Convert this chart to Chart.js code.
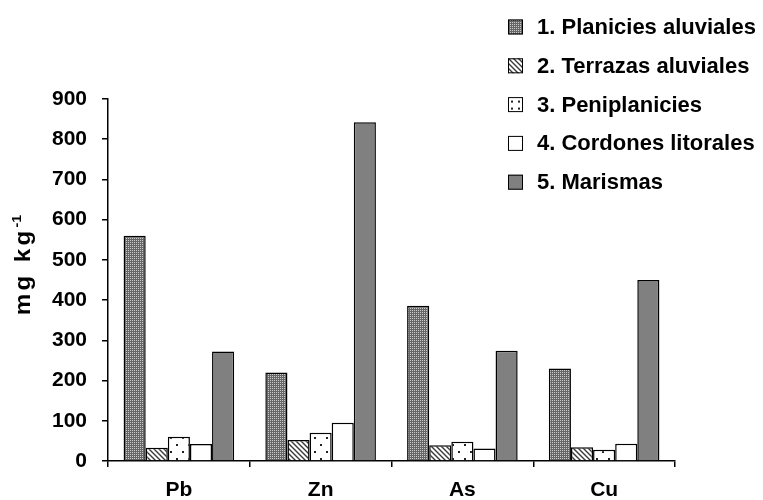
<!DOCTYPE html>
<html lang="es">
<head>
    <meta charset="UTF-8">
    <title>Metales por unidad geomorfológica</title>
    <script src="https://cdn.jsdelivr.net/npm/chart.js"></script>
    <style>
        body {
            margin: 0;
            padding: 0;
            background-color: #ffffff;
            font-family: "Liberation Sans", Arial, sans-serif;
        }
    </style>
</head>
<body>
    <canvas id="metalChart" width="763" height="500"></canvas>

    <script>
// categories + series (mg kg-1)
const metals = ["Pb", "Zn", "As", "Cu"];
const seriesNames = ["1. Planicies aluviales", "2. Terrazas aluviales", "3. Peniplanicies", "4. Cordones litorales", "5. Marismas"];
const planicies = [560, 220, 386, 230];
const terrazas = [33, 52, 39, 34];
const peniplanicies = [60, 70, 48, 28];
const cordones = [42, 95, 31, 43];
const marismas = [272, 842, 274, 450];
const yTicks = [0, 100, 200, 300, 400, 500, 600, 700, 800, 900];

const FONT = "'Liberation Sans', Arial, sans-serif";

// fill patterns like the old excel hatches
function makePattern(w, h, draw) {
    const c = document.createElement("canvas");
    c.width = w;
    c.height = h;
    const g = c.getContext("2d");
    draw(g);
    return c.getContext("2d").createPattern(c, "repeat");
}

// dark grey with a grid of light specks
const checkFill = makePattern(2, 2, g => {
    g.fillStyle = "#666666";
    g.fillRect(0, 0, 2, 2);
    g.fillStyle = "#cccccc";
    g.fillRect(0, 0, 1, 1);
});

const stripeFill = makePattern(5, 5, g => {
    g.fillStyle = "#ffffff";
    g.fillRect(0, 0, 5, 5);
    g.strokeStyle = "#3a3a3a";
    g.lineWidth = 1.4;
    g.beginPath();
    g.moveTo(-1, -1); g.lineTo(6, 6);
    g.moveTo(-1, 4); g.lineTo(1, 6);
    g.moveTo(4, -1); g.lineTo(6, 1);
    g.stroke();
});

const dotFill = makePattern(12, 14, g => {
    g.fillStyle = "#ffffff";
    g.fillRect(0, 0, 12, 14);
    g.fillStyle = "#222222";
    g.fillRect(2, 3, 2, 2);
    g.fillRect(8, 10, 2, 2);
});

const fills = [checkFill, stripeFill, dotFill, "#ffffff", "#808080"];
const values = [planicies, terrazas, peniplanicies, cordones, marismas];

// legend top right, drawn by hand since it overlaps the plot columns
const sideLegend = {
    id: "sideLegend",
    afterDraw(chart) {
        const ctx = chart.ctx;
        ctx.save();
        ctx.font = "bold 22px " + FONT;
        ctx.textBaseline = "middle";
        seriesNames.forEach((name, i) => {
            const cy = 27 + i * 38.8;
            ctx.fillStyle = i === 2 ? "#ffffff" : fills[i];
            ctx.fillRect(508, cy - 7.5, 15, 15);
            if (i === 2) {
                // pattern phase misses the little box, put the specks in by hand
                ctx.fillStyle = "#222";
                ctx.fillRect(511, cy - 4, 2, 2);
                ctx.fillRect(518, cy - 4, 2, 2);
                ctx.fillRect(511, cy + 3, 2, 2);
                ctx.fillRect(518, cy + 3, 2, 2);
            }
            ctx.strokeStyle = "#000";
            ctx.lineWidth = 1;
            ctx.strokeRect(508.5, cy - 7, 14, 14);
            ctx.fillStyle = "#000";
            ctx.fillText(name, 537, cy + 1);
        });
        ctx.restore();
    }
};

// y title with superscript
const yTitle = {
    id: "yTitle",
    afterDraw(chart) {
        const ctx = chart.ctx;
        ctx.save();
        ctx.translate(30, 265);
        ctx.rotate(-Math.PI / 2);
        ctx.scale(1.1, 1);
        ctx.fillStyle = "#000";
        ctx.textBaseline = "alphabetic";
        ctx.font = "bold 22px " + FONT;
        ctx.letterSpacing = "3px";
        const main = "mg kg";
        const w1 = ctx.measureText(main).width;
        ctx.font = "bold 13px " + FONT;
        ctx.letterSpacing = "0px";
        const w2 = ctx.measureText("-1").width;
        const x0 = -(w1 + w2) / 2;
        ctx.font = "bold 22px " + FONT;
        ctx.letterSpacing = "3px";
        ctx.fillText(main, x0, 0);
        ctx.font = "bold 13px " + FONT;
        ctx.letterSpacing = "0px";
        ctx.fillText("-1", x0 + w1, -9);
        ctx.restore();
    }
};

let ctx = document.getElementById("metalChart").getContext("2d");
new Chart(ctx, {
    type: "bar",
    data: {
        labels: metals,
        datasets: seriesNames.map((name, i) => ({
            label: name,
            data: values[i],
            backgroundColor: fills[i],
            borderColor: "#000",
            borderWidth: 1.5,
            borderSkipped: "bottom"
        }))
    },
    options: {
        responsive: false,
        animation: false,
        layout: {
            padding: { top: 99, right: 88, left: 0, bottom: 0 }
        },
        datasets: {
            bar: {
                categoryPercentage: 0.78,
                barPercentage: 1.0
            }
        },
        plugins: {
            legend: { display: false },
            tooltip: { enabled: false },
            title: { display: false }
        },
        scales: {
            x: {
                offset: true,
                grid: {
                    display: true,
                    offset: true,
                    drawOnChartArea: false,
                    drawTicks: true,
                    tickLength: 6,
                    color: "#000",
                    lineWidth: 1.5
                },
                border: { display: true, color: "#000", width: 1.5 },
                ticks: {
                    color: "#000",
                    padding: 11,
                    font: { family: FONT, size: 21, weight: "bold" }
                },
                afterFit(scale) { scale.height = 39; }
            },
            y: {
                min: 0,
                max: 900,
                afterBuildTicks(scale) {
                    scale.ticks = yTicks.map(v => ({ value: v }));
                },
                grid: {
                    display: true,
                    drawOnChartArea: false,
                    drawTicks: true,
                    tickLength: 6,
                    color: "#000",
                    lineWidth: 1.5
                },
                border: { display: true, color: "#000", width: 1.5 },
                ticks: {
                    color: "#000",
                    padding: 15,
                    font: { family: FONT, size: 21, weight: "bold" }
                },
                afterFit(scale) { scale.width = 108; }
            }
        }
    },
    plugins: [sideLegend, yTitle]
});
    </script>
</body>
</html>
